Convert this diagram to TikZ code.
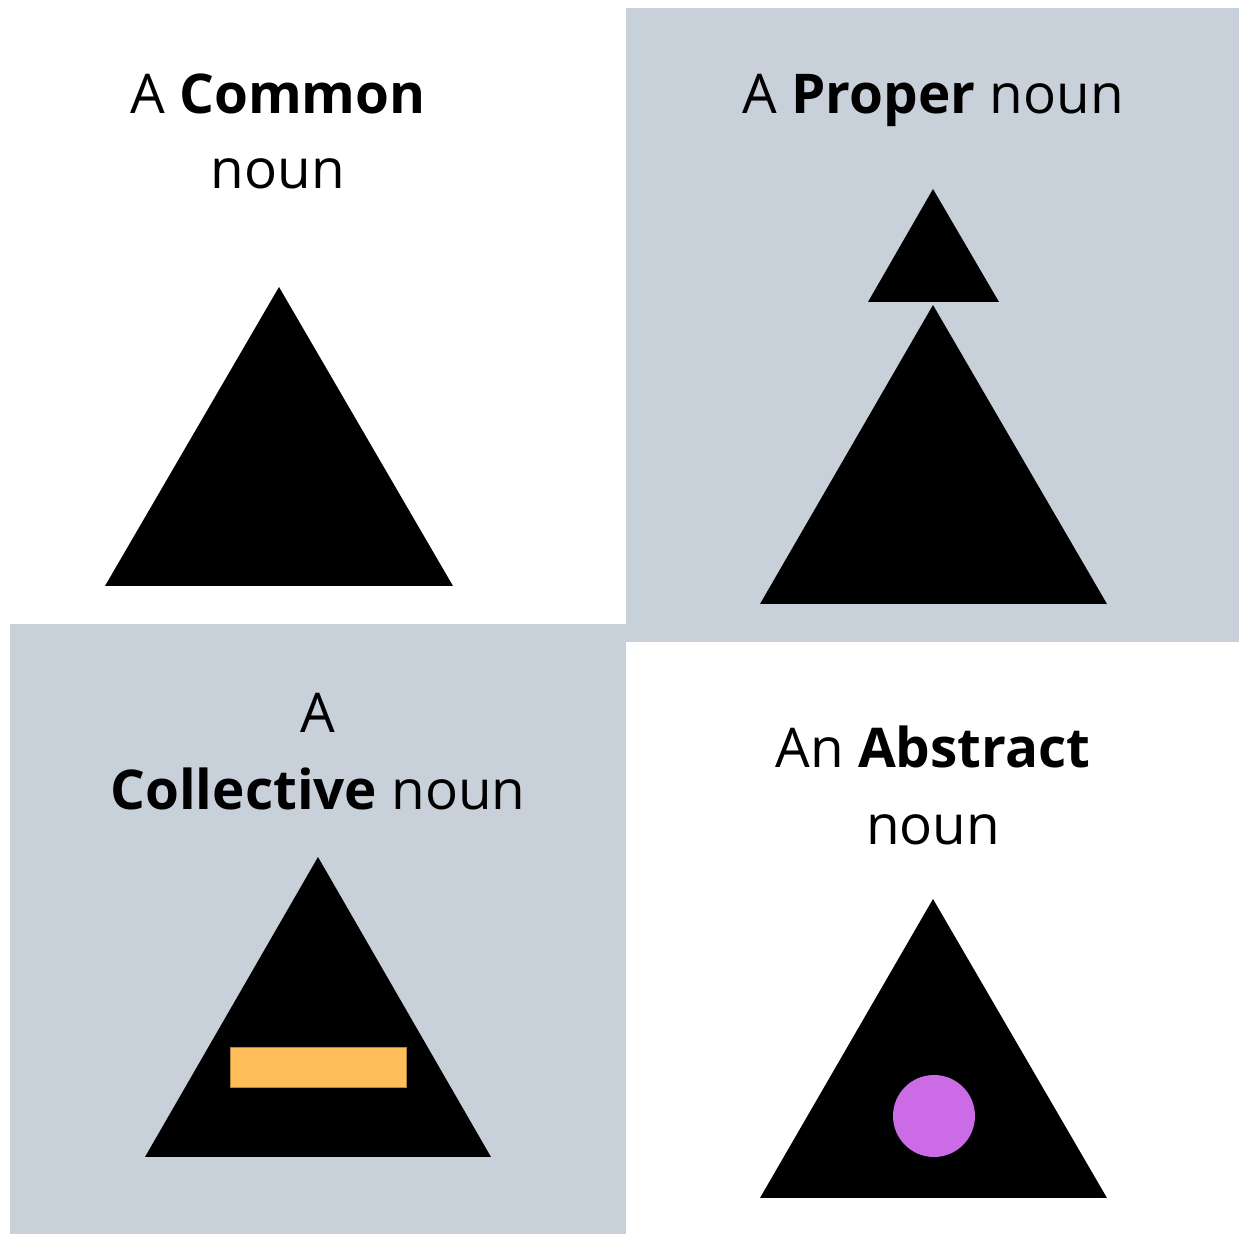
\documentclass[tikz,border=0pt]{standalone}
\usepackage{fontspec}
\setmainfont{Open Sans}
\definecolor{panelgray}{RGB}{200,208,217}
\definecolor{barorange}{RGB}{255,190,90}
\definecolor{dotpurple}{RGB}{203,108,230}
\tikzset{
    caption/.style={anchor=base, inner sep=0pt, font=\fontsize{27.4}{33}\selectfont},
    solid black/.style={fill=black}
}
\begin{document}
\begin{tikzpicture}[x={(0.5pt,0)}, y={(0,-0.5pt)}]
    \useasboundingbox (0,0) rectangle (1239,1234);

    % Background panels
    \fill[panelgray] (626,8) rectangle (1239,642);
    \fill[panelgray] (10,624) rectangle (626,1234);

    % TOP LEFT: Common
    \node[caption] (common1) at (278,114) {A \textbf{Common}};
    \node[caption] (common2) at (278,189) {noun};
    \fill[solid black] (279,287) -- (453,586) -- (105,586) -- cycle;

    % TOP RIGHT: Proper
    \node[caption] (proper1) at (933,114) {A \textbf{Proper} noun};
    \fill[solid black] (933,189) -- (999,302) -- (868,302) -- cycle;
    \fill[solid black] (933,305) -- (1107,604) -- (760,604) -- cycle;

    % BOTTOM LEFT: Collective
    \node[caption] (collective1) at (318,733) {A};
    \node[caption] (collective2) at (318,810) {\textbf{Collective} noun};
    \fill[solid black] (318,857) -- (491,1157) -- (145,1157) -- cycle;
    \filldraw[fill=barorange, draw=barorange!70!black, line width=0.5pt] (230,1048) rectangle (406,1088);

    % BOTTOM RIGHT: Abstract
    \node[caption] (abstract1) at (933,768) {An \textbf{Abstract}};
    \node[caption] (abstract2) at (933,845) {noun};
    \fill[solid black] (933,899) -- (1107,1198) -- (760,1198) -- cycle;
    \fill[dotpurple] (934,1116) circle[radius=20.5pt];

\end{tikzpicture}
\end{document}
